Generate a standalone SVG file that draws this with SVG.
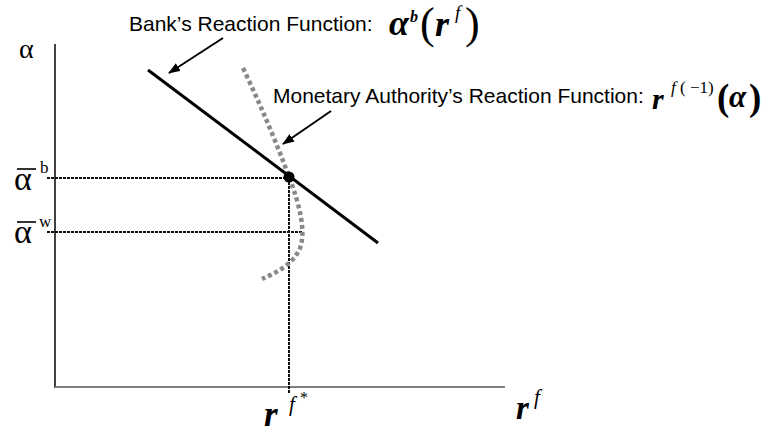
<svg xmlns="http://www.w3.org/2000/svg" width="764" height="435" viewBox="0 0 764 435">
<defs>
<marker id="ah" viewBox="0 0 12 9" refX="11" refY="4.5" markerWidth="12" markerHeight="9" orient="auto" markerUnits="userSpaceOnUse">
<path d="M0,0 L12,4.5 L0,9 z" fill="#000"/>
</marker>
</defs>
<style>
.lbl{font-family:"Liberation Sans",Arial,sans-serif;font-size:21px;fill:#000}
.m{font-family:"Liberation Serif","Times New Roman",serif;font-weight:bold;font-style:italic;fill:#000}
.i{font-family:"Liberation Serif","Times New Roman",serif;font-style:italic;fill:#000}
.p{font-family:"Liberation Serif","Times New Roman",serif;fill:#000}
.ref{stroke:#111;stroke-width:2;stroke-dasharray:3 1;fill:none}
.bar{stroke:#000;stroke-width:1.6}
</style>
<rect width="764" height="435" fill="#fff"/>
<g id="axes">
<line x1="55" y1="44" x2="55" y2="388" stroke="#000" stroke-width="1.5"/>
<line x1="55" y1="387" x2="505" y2="387" stroke="#808080" stroke-width="2"/>
</g>
<g id="guides">
<line class="ref" x1="47" y1="178" x2="289" y2="178"/>
<line class="ref" x1="47" y1="232" x2="303" y2="232"/>
<line class="ref" x1="289" y1="178" x2="289" y2="394"/>
</g>
<g id="monetary-curve">
<path d="M243,68 Q270,125 289,177 C300,205 306,232 300,248 C293,265 275,273 262,279" fill="none" stroke="#888" stroke-width="4.5" stroke-dasharray="4 3"/>
</g>
<g id="bank-line">
<line x1="148" y1="70" x2="378" y2="243" stroke="#000" stroke-width="3"/>
</g>
<g id="equilibrium">
<circle cx="289" cy="177" r="5.5" fill="#000"/>
</g>
<g id="connectors">
<line x1="223" y1="38" x2="169" y2="73" stroke="#000" stroke-width="2" marker-end="url(#ah)"/>
<line x1="331" y1="111" x2="283" y2="144" stroke="#000" stroke-width="2" marker-end="url(#ah)"/>
</g>
<g id="bank-label">
<text class="lbl" x="129" y="31">Bank’s Reaction Function:</text>
<text class="m" x="389" y="35" font-size="36">α</text>
<text class="m" x="410" y="22" font-size="16">b</text>
<text class="p" x="420" y="38" font-size="44">(</text>
<text class="m" x="435" y="36" font-size="36">r</text>
<text class="i" x="455" y="19" font-size="19">f</text>
<text class="p" x="465" y="38" font-size="44">)</text>
</g>
<g id="monetary-label">
<text class="lbl" x="273" y="103">Monetary Authority’s Reaction Function:</text>
<text class="m" x="652" y="109" font-size="30">r</text>
<text class="p" x="671" y="93" font-size="17"><tspan font-style="italic">f</tspan> ( −1)</text>
<text class="p" x="717" y="110" font-size="37" font-weight="bold">(</text>
<text class="m" x="729" y="107" font-size="31">α</text>
<text class="p" x="749" y="110" font-size="37" font-weight="bold">)</text>
</g>
<g id="axis-labels">
<text class="p" x="19" y="58" font-size="28">α</text>
<text class="p" x="14" y="190" font-size="34">α</text>
<line class="bar" x1="17" y1="169" x2="36" y2="169"/>
<text class="p" x="40" y="173" font-size="17">b</text>
<text class="p" x="14" y="243" font-size="34">α</text>
<line class="bar" x1="17" y1="222" x2="36" y2="222"/>
<text class="p" x="39" y="227" font-size="17">w</text>
<text class="m" x="264" y="426" font-size="35">r</text>
<text class="i" x="289" y="411" font-size="21">f</text>
<text class="p" x="300" y="403" font-size="16">*</text>
<text class="m" x="516" y="419" font-size="33">r</text>
<text class="i" x="534" y="404" font-size="21">f</text>
</g>
</svg>
